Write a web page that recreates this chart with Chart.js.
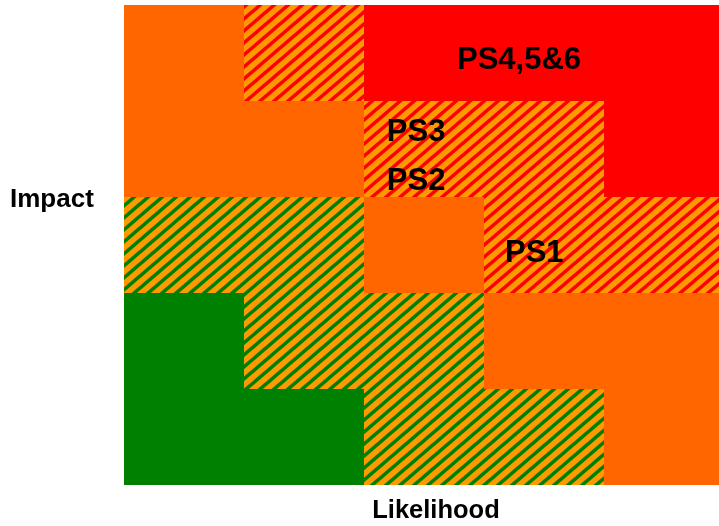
<!DOCTYPE html>
<html>
<head>
<meta charset="utf-8">
<script src="https://cdn.jsdelivr.net/npm/chart.js@4.4.1/dist/chart.umd.min.js"></script>
<style>
  html, body { margin: 0; padding: 0; overflow: hidden; background: #ffffff; }
  #wrap { width: 724px; height: 526px; }
</style>
</head>
<body>
<div id="wrap"><canvas id="risk" width="724" height="526"></canvas></div>
<script>
// Likelihood categories (columns, left to right)
const likelihood = ['1', '2', '3', '4', '5'];

// Risk rating per cell, one array per impact level (bottom row first)
// L = low, LM = low/medium, M = medium, MH = medium/high, H = high
const impact1 = ['L',  'L',  'LM', 'LM', 'M'];
const impact2 = ['L',  'LM', 'LM', 'M',  'M'];
const impact3 = ['LM', 'LM', 'M',  'MH', 'MH'];
const impact4 = ['M',  'M',  'MH', 'MH', 'H'];
const impact5 = ['M',  'MH', 'H',  'H',  'H'];
const impactRows = [impact1, impact2, impact3, impact4, impact5];

// Each cell is one unit of impact
const cellSize = [1, 1, 1, 1, 1];

// Plotted scenarios: [label, likelihood position, impact position]
const scenarios = [
  ['PS4,5&6', 2.775, 4.425],
  ['PS3',     2.19,  3.675],
  ['PS2',     2.19,  3.165],
  ['PS1',     3.175, 2.415]
];

const ORANGE = '#FF6600';
const AMBER = '#FF9900';
const RED = '#FF0000';
const GREEN = '#008000';

// Diagonal stripe tile (lower-left to upper-right) on an amber ground
function stripes(color) {
  const w = 14, h = 12;
  const t = document.createElement('canvas');
  t.width = w; t.height = h;
  const c = t.getContext('2d');
  c.fillStyle = AMBER;
  c.fillRect(0, 0, w, h);
  c.strokeStyle = color;
  c.lineWidth = 3.6;
  [-1, 0, 1].forEach(k => {
    c.beginPath();
    c.moveTo(k * w - w, 2 * h);
    c.lineTo(k * w + 2 * w, -h);
    c.stroke();
  });
  return c.createPattern(t, 'repeat');
}

const ctx = document.getElementById('risk').getContext('2d');

const fills = {
  L: GREEN,
  LM: stripes(GREEN),
  M: ORANGE,
  MH: stripes(RED),
  H: RED
};

const textPlugin = {
  id: 'riskText',
  afterDatasetsDraw(chart) {
    const c = chart.ctx;
    const xs = chart.scales.x, ys = chart.scales.y;
    c.save();
    c.fillStyle = '#000000';
    c.textBaseline = 'middle';
    c.textAlign = 'left';
    c.font = 'bold 31px "Liberation Sans", Arial, sans-serif';
    scenarios.forEach(([name, u, v]) => {
      c.fillText(name, xs.getPixelForValue(u - 0.5), ys.getPixelForValue(v));
    });
    c.font = 'bold 26px "Liberation Sans", Arial, sans-serif';
    c.fillText('Impact', 10, 200);
    c.font = 'bold 25.5px "Liberation Sans", Arial, sans-serif';
    c.textAlign = 'center';
    c.fillText('Likelihood', 436, 511);
    c.restore();
  }
};

new Chart(ctx, {
  type: 'bar',
  data: {
    labels: likelihood,
    datasets: impactRows.map((row, i) => ({
      label: 'Impact ' + (i + 1),
      data: cellSize,
      backgroundColor: row.map(r => fills[r]),
      borderWidth: 0,
      barPercentage: 1,
      categoryPercentage: 1,
      inflateAmount: 0
    }))
  },
  options: {
    responsive: false,
    animation: false,
    layout: { padding: { left: 124, top: 5, right: 0, bottom: 41 } },
    plugins: { legend: { display: false }, tooltip: { enabled: false } },
    scales: {
      x: { stacked: true, display: false, offset: true },
      y: { stacked: true, display: false, min: 0, max: 5 }
    }
  },
  plugins: [textPlugin]
});
</script>
</body>
</html>
